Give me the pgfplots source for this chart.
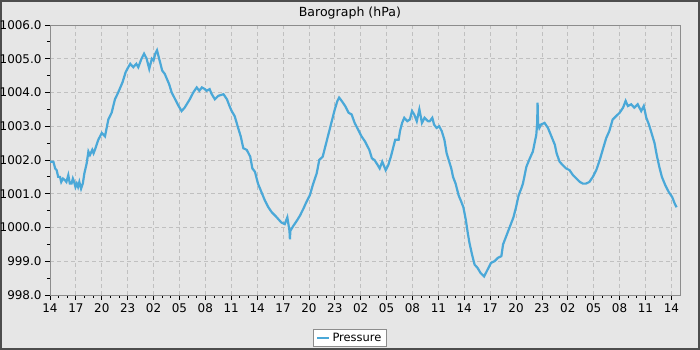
\documentclass[border=0pt]{standalone}
\usepackage{pgfplots}
\pgfplotsset{compat=1.18}
\usepackage{fontspec}
\setmainfont{DejaVu Sans}
\definecolor{bg}{HTML}{E6E6E6}
\definecolor{pres}{HTML}{4AA8D8}
\definecolor{axgray}{HTML}{8C8C8C}
\definecolor{gridgray}{HTML}{C0C0C0}
\definecolor{frame}{HTML}{4D4D4D}
\begin{document}
\begin{tikzpicture}
\fill[bg] (0bp,0bp) rectangle (700bp,350bp);
\draw[frame, line width=2bp] (1bp,1bp) rectangle (699bp,349bp);
\begin{axis}[
  at={(50bp,55bp)}, anchor=south west,
  scale only axis, width=630bp, height=270bp,
  xmin=0, xmax=73, ymin=998, ymax=1006,
  axis line style={draw=axgray, line width=1bp},
  tick align=outside, xtick pos=bottom, ytick pos=left,
  tick style={black, line width=0.8bp},
  major tick length=5bp, minor tick length=3bp,
  xtick={0,3,...,72},
  xticklabels={14,17,20,23,02,05,08,11,14,17,20,23,02,05,08,11,14,17,20,23,02,05,08,11,14},
  minor x tick num=2,
  ytick={998,999,...,1006},
  minor y tick num=1,
  grid=major,
  major grid style={gridgray, dash pattern=on 4bp off 3bp, line width=0.8bp},
  /pgf/number format/assume math mode=true,
  yticklabel style={/pgf/number format/.cd, fixed, fixed zerofill, precision=1, 1000 sep={}},
  tick label style={font=\fontsize{12}{14}\selectfont},
  title={Barograph (hPa)},
  title style={at={(0.476,1)}, anchor=south, yshift=-4bp, font=\fontsize{12.6}{15}\selectfont},
  legend style={at={(0.476,-0.159)}, anchor=center, draw=axgray, fill=white,
    font=\fontsize{11.5}{13}\selectfont, inner xsep=3bp, inner ysep=1.5bp},
  legend image code/.code={\draw[pres, line width=2.2bp] (0bp,0bp) -- (12bp,0bp);},
]
\addplot[pres, line width=2.2bp] coordinates {
(0.0,1001.95) (0.39,1001.95) (0.6,1001.75) (0.77,1001.7) (0.95,1001.5) (1.16,1001.5) (1.3,1001.35) (1.5,1001.45) (1.74,1001.4)
(1.9,1001.35) (2.12,1001.55) (2.3,1001.3) (2.5,1001.3) (2.65,1001.45) (2.8,1001.35) (2.95,1001.2) (3.1,1001.3) (3.25,1001.2) (3.4,1001.35) (3.6,1001.15)
(3.8,1001.3) (3.98,1001.6) (4.25,1001.9) (4.45,1002.25) (4.63,1002.15) (4.9,1002.3) (5.05,1002.2) (5.2,1002.3)
(5.6,1002.6) (6.0,1002.8) (6.37,1002.7) (6.76,1003.2) (7.14,1003.4) (7.53,1003.8)
(7.9,1004.0) (8.4,1004.3) (8.76,1004.6) (9.07,1004.75) (9.3,1004.85) (9.65,1004.75) (10.0,1004.85) (10.23,1004.75)
(10.6,1005.0) (10.9,1005.15) (11.2,1005.0) (11.5,1004.7) (11.8,1005.0) (12.0,1004.95) (12.2,1005.15)
(12.4,1005.25) (12.7,1004.95) (13.0,1004.65) (13.3,1004.55) (13.8,1004.25) (14.1,1004.0)
(14.5,1003.8) (14.9,1003.6) (15.25,1003.45) (15.6,1003.55) (16.2,1003.8) (16.6,1004.0)
(17.0,1004.15) (17.3,1004.05) (17.6,1004.15) (17.95,1004.1) (18.15,1004.05) (18.5,1004.1) (18.7,1003.97)
(19.1,1003.8) (19.5,1003.9) (20.1,1003.95) (20.5,1003.8) (20.8,1003.6) (21.05,1003.45)
(21.4,1003.3) (21.8,1002.95) (22.1,1002.7) (22.4,1002.35) (22.8,1002.3) (23.2,1002.1)
(23.45,1001.75) (23.75,1001.65) (24.1,1001.3) (24.5,1001.05) (24.9,1000.8) (25.3,1000.6)
(25.7,1000.45) (26.1,1000.35) (26.45,1000.25) (26.8,1000.15) (27.2,1000.1) (27.5,1000.3)
(27.75,999.9) (27.8,999.65) (27.85,999.9) (28.2,1000.05) (28.6,1000.2) (28.96,1000.35)
(29.35,1000.55) (29.7,1000.75) (30.1,1000.95) (30.5,1001.3) (30.9,1001.6) (31.2,1002.0)
(31.6,1002.1) (31.9,1002.4) (32.25,1002.75) (32.6,1003.1) (33.0,1003.5) (33.3,1003.75)
(33.5,1003.85) (33.8,1003.75) (34.2,1003.6) (34.6,1003.4) (34.95,1003.35) (35.3,1003.1)
(35.7,1002.9) (36.1,1002.7) (36.5,1002.55) (37.0,1002.3) (37.3,1002.05) (37.6,1002.0)
(37.97,1001.85) (38.2,1001.75) (38.5,1001.95) (38.9,1001.7) (39.2,1001.85) (39.5,1002.1)
(39.7,1002.3) (40.0,1002.6) (40.4,1002.6) (40.55,1002.85) (40.8,1003.1) (41.05,1003.25)
(41.4,1003.15) (41.7,1003.2) (41.95,1003.45) (42.2,1003.35) (42.5,1003.15) (42.8,1003.5)
(43.1,1003.1) (43.4,1003.25) (43.8,1003.15) (44.0,1003.15) (44.3,1003.25) (44.5,1003.05)
(44.8,1002.95) (45.1,1003.0) (45.4,1002.85) (45.7,1002.6) (45.96,1002.2) (46.2,1002.0)
(46.5,1001.75) (46.7,1001.5) (47.0,1001.3) (47.35,1000.95) (47.6,1000.8) (47.9,1000.6)
(48.2,1000.2) (48.4,999.85) (48.6,999.55) (48.9,999.2) (49.2,998.9) (49.55,998.8)
(49.9,998.65) (50.3,998.55) (50.7,998.75) (51.1,998.95) (51.5,999.0) (51.9,999.1)
(52.3,999.15) (52.5,999.5) (52.8,999.7) (53.1,999.9) (53.4,1000.1) (53.7,1000.3)
(54.0,1000.6) (54.3,1000.95) (54.6,1001.15) (54.8,1001.3) (55.0,1001.55) (55.2,1001.8)
(55.6,1002.05) (55.95,1002.25) (56.15,1002.5) (56.35,1002.75) (56.45,1003.1) (56.5,1003.7)
(56.55,1003.1) (56.7,1002.95) (56.9,1003.05) (57.3,1003.1) (57.7,1002.95) (58.1,1002.7)
(58.5,1002.45) (58.7,1002.2) (59.05,1001.95) (59.4,1001.85) (59.8,1001.75) (60.2,1001.7)
(60.6,1001.55) (61.0,1001.45) (61.4,1001.35) (61.75,1001.3) (62.1,1001.3) (62.5,1001.35)
(62.9,1001.5) (63.3,1001.7) (63.7,1002.0) (64.1,1002.35) (64.45,1002.65) (64.8,1002.85)
(65.2,1003.2) (65.6,1003.3) (66.0,1003.4) (66.4,1003.55) (66.7,1003.75) (66.96,1003.6)
(67.35,1003.65) (67.7,1003.55) (68.1,1003.65) (68.5,1003.45) (68.8,1003.6) (69.1,1003.25)
(69.4,1003.05) (69.7,1002.8) (70.05,1002.5) (70.3,1002.15) (70.6,1001.8) (70.9,1001.5)
(71.3,1001.25) (71.7,1001.05) (72.1,1000.9) (72.4,1000.7) (72.6,1000.6)
};
\addlegendentry{Pressure}
\end{axis}
\pgfresetboundingbox
\path[use as bounding box] (0bp,0bp) rectangle (700bp,350bp);
\end{tikzpicture}
\end{document}
